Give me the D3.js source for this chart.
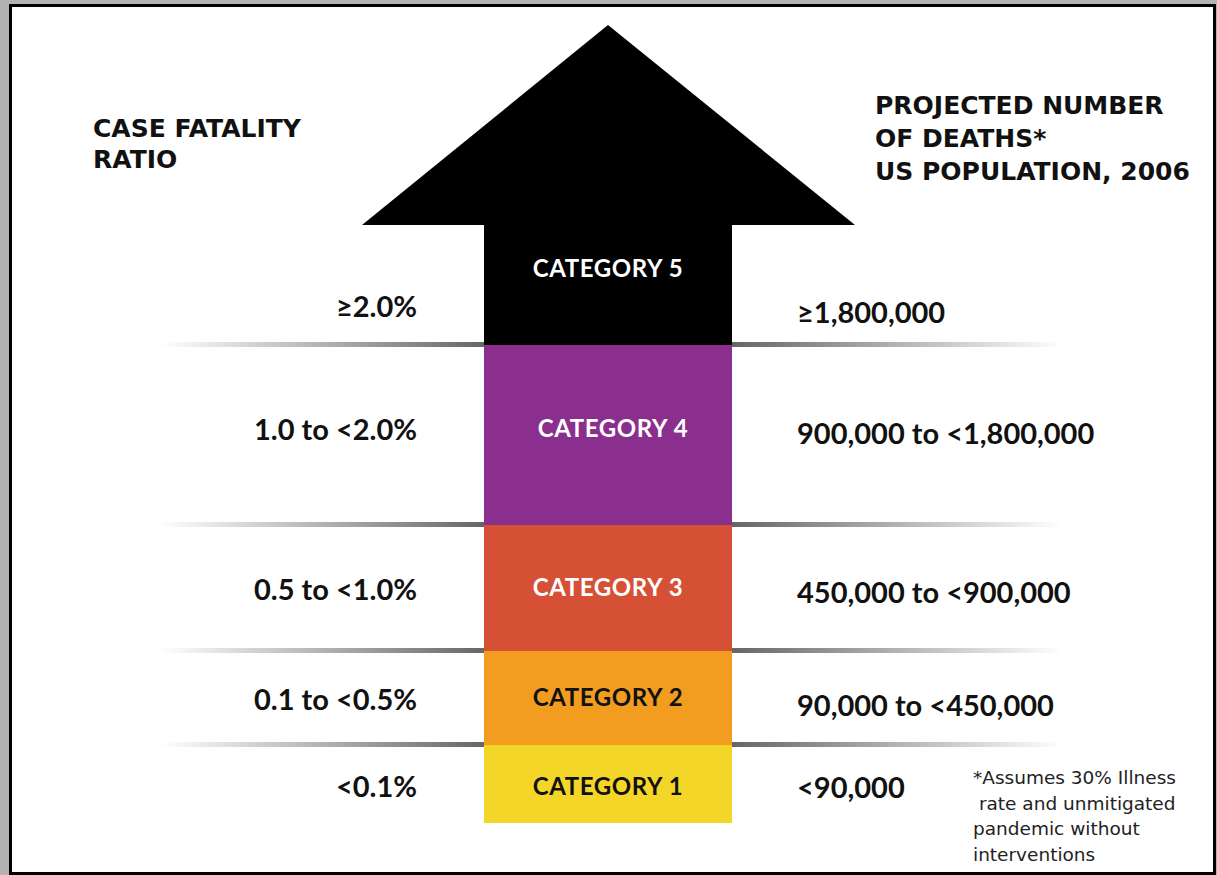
<!DOCTYPE html>
<html>
<head>
<meta charset="utf-8">
<script src="https://cdn.jsdelivr.net/npm/d3@7"></script>
<style>
  html, body { margin: 0; padding: 0; background: #b3b3b3; }
  svg { display: block; }
</style>
</head>
<body>
<div id="chart"></div>
<script>
// categories, bottom to top
const categories = ['CATEGORY 1', 'CATEGORY 2', 'CATEGORY 3', 'CATEGORY 4', 'CATEGORY 5'];
const fatalityRatios = ['<0.1%', '0.1 to <0.5%', '0.5 to <1.0%', '1.0 to <2.0%', '\u22652.0%'];
const projectedDeaths = ['<90,000', '90,000 to <450,000', '450,000 to <900,000', '900,000 to <1,800,000', '\u22651,800,000'];
const leftTitle = ['CASE FATALITY', 'RATIO'];
const rightTitle = ['PROJECTED NUMBER', 'OF DEATHS*', 'US POPULATION, 2006'];
const footnote = ['*Assumes 30% Illness', ' rate and unmitigated', 'pandemic without', 'interventions'];

// styling for each category
const fills = ['#f4d628', '#f29c20', '#d65035', '#8b2f8e', '#000000'];
const labelColors = ['#111', '#111', '#fff', '#fff', '#fff'];

const width = 1217;
const height = 875;

// segment edges of the column, in px (bottom of cat 1 ... top of cat 5)
const edges = [823, 745, 651, 525, 345, 225];

const svg = d3.select('#chart').append('svg')
  .attr('width', width)
  .attr('height', height);

// page frame
svg.append('rect')
  .attr('x', 10.5).attr('y', 5.5)
  .attr('width', 1204).attr('height', 868)
  .attr('fill', '#fff')
  .attr('stroke', '#000')
  .attr('stroke-width', 3);

const x = d3.scaleLinear().domain([0, 1]).range([484, 732]);
const cx = x(0.5);

const idx = d3.range(categories.length);
const bandTop = i => edges[i + 1];
const bandBot = i => edges[i];

// gradients for the separators
const defs = svg.append('defs');
const gl = defs.append('linearGradient').attr('id', 'fadeL')
  .attr('x1', '0%').attr('x2', '100%');
gl.append('stop').attr('offset', '0%').attr('stop-color', '#ffffff');
gl.append('stop').attr('offset', '100%').attr('stop-color', '#666666');
const gr = defs.append('linearGradient').attr('id', 'fadeR')
  .attr('x1', '0%').attr('x2', '100%');
gr.append('stop').attr('offset', '0%').attr('stop-color', '#666666');
gr.append('stop').attr('offset', '100%').attr('stop-color', '#ffffff');

const seps = edges.slice(1, 5);
svg.append('g').selectAll('rect.sl').data(seps).join('rect')
  .attr('class', 'sl')
  .attr('x', 160).attr('y', d => d - 3)
  .attr('width', x(0) - 160).attr('height', 5)
  .attr('fill', 'url(#fadeL)');
svg.append('g').selectAll('rect.sr').data(seps).join('rect')
  .attr('class', 'sr')
  .attr('x', x(1)).attr('y', d => d - 3)
  .attr('width', 1062 - x(1)).attr('height', 5)
  .attr('fill', 'url(#fadeR)');

// arrow head
svg.append('path')
  .attr('d', d3.line()([[cx - 246, 225], [cx, 25], [cx + 247, 225]]) + 'Z')
  .attr('fill', '#000');

// column segments
svg.append('g').selectAll('rect').data(idx).join('rect')
  .attr('x', x(0))
  .attr('y', i => bandTop(i))
  .attr('width', x(1) - x(0))
  .attr('height', i => bandBot(i) - bandTop(i))
  .attr('fill', i => fills[i]);

const labelFont = 'Lato, "Open Sans", sans-serif';
const headFont = '"DejaVu Sans", Verdana, sans-serif';

// category labels
const catBase = [795, 706, 596, 437, 277];
svg.append('g').selectAll('text').data(idx).join('text')
  .attr('x', i => i === 3 ? cx + 5 : cx)
  .attr('y', i => catBase[i])
  .attr('text-anchor', 'middle')
  .attr('font-family', labelFont)
  .attr('font-weight', 700)
  .attr('font-size', 24)
  .attr('letter-spacing', 0.6)
  .attr('fill', i => labelColors[i])
  .text(i => categories[i]);

// left values
const leftBase = [797, 710, 600, 440, 317];
svg.append('g').selectAll('text').data(idx).join('text')
  .attr('x', 417)
  .attr('y', i => leftBase[i])
  .attr('text-anchor', 'end')
  .attr('font-family', labelFont)
  .attr('font-weight', 700)
  .attr('font-size', 29)
  .attr('fill', '#111')
  .text(i => fatalityRatios[i]);

// right values
const rightBase = [798, 716, 603, 444, 323];
svg.append('g').selectAll('text').data(idx).join('text')
  .attr('x', 797)
  .attr('y', i => rightBase[i])
  .attr('font-family', labelFont)
  .attr('font-weight', 700)
  .attr('font-size', 29)
  .attr('fill', '#111')
  .text(i => projectedDeaths[i]);

// titles
svg.append('g').selectAll('text').data(leftTitle).join('text')
  .attr('x', 93)
  .attr('y', (d, i) => 137 + i * 31)
  .attr('font-family', headFont)
  .attr('font-weight', 700)
  .attr('font-size', 25)
  .attr('fill', '#111')
  .text(d => d);

svg.append('g').selectAll('text').data(rightTitle).join('text')
  .attr('x', 875)
  .attr('y', (d, i) => 114 + i * 33)
  .attr('font-family', headFont)
  .attr('font-weight', 700)
  .attr('font-size', 25)
  .attr('fill', '#111')
  .text(d => d);

// footnote
svg.append('g').selectAll('text').data(footnote).join('text')
  .attr('x', 973)
  .attr('y', (d, i) => 784 + i * 25.5)
  .attr('font-family', '"DejaVu Sans", sans-serif')
  .attr('font-size', 18.5)
  .attr('fill', '#222')
  .style('white-space', 'pre')
  .text(d => d);
</script>
</body>
</html>
